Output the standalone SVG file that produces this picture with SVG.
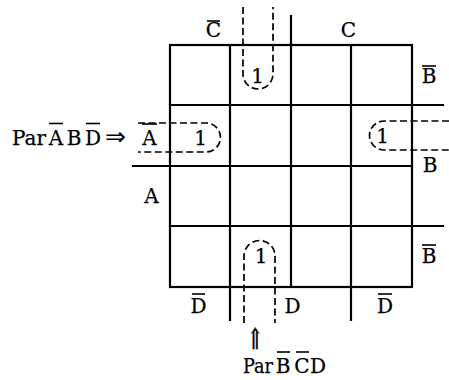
<svg xmlns="http://www.w3.org/2000/svg" width="449" height="380" viewBox="0 0 449 380">
<style>
.g{stroke:#000;stroke-width:2.2;fill:none;stroke-linecap:square}
.d{stroke:#000;stroke-width:1.7;fill:none;stroke-dasharray:7 3.5}
.bar{stroke:#000;stroke-width:1.6}
text{font-family:"DejaVu Serif","Liberation Serif",serif;font-size:20px;fill:#000;text-anchor:middle;stroke:#000;stroke-width:0.25}
.s{text-anchor:start}
.ar{font-family:"DejaVu Sans","Liberation Sans",sans-serif;stroke:none;font-size:25px}
.up{font-size:24px;stroke-width:0.4}
</style>
<rect width="449" height="380" fill="#fff"/>
<g id="grid">
<rect class="g" x="170" y="45" width="242" height="242"/>
<path class="g" d="M230,45V320M291,16V287M351,45V320M170,105H443M133,166H412M170,226H443"/>
</g>
<g id="labels">
<text x="213.5" y="37">C</text><line class="bar" x1="207" y1="21" x2="220" y2="21"/>
<text x="348.5" y="37">C</text>
<text x="429" y="83">B</text><line class="bar" x1="422" y1="66" x2="436" y2="66"/>
<text x="430" y="172">B</text>
<text x="429" y="263">B</text><line class="bar" x1="422" y1="245" x2="436" y2="245"/>
<text x="149.5" y="145">A</text><line class="bar" x1="142" y1="124" x2="157" y2="124"/>
<text x="151.5" y="203">A</text>
<text x="198.5" y="313">D</text><line class="bar" x1="192" y1="294" x2="205" y2="294"/>
<text x="292.5" y="313">D</text>
<text x="385" y="313">D</text><line class="bar" x1="378" y1="294" x2="392" y2="294"/>
</g>
<g id="loops">
<path class="d" d="M243,7V74A15,15 0 0 0 273,74V7"/>
<path class="d" d="M138,123H206A14.5,14.5 0 0 1 206,152H138"/>
<path class="d" d="M449,121H384A14.5,14.5 0 0 0 384,150H449"/>
<path class="d" d="M244,323V256A15.5,15.5 0 0 1 275,256V323"/>
<text x="257.5" y="83">1</text>
<text x="200.5" y="145">1</text>
<text x="382.5" y="143">1</text>
<text x="261" y="263">1</text>
</g>
<g id="pair-left">
<text class="s" x="12" y="145" textLength="34" lengthAdjust="spacingAndGlyphs">Par</text>
<text x="56" y="145">A</text><line class="bar" x1="49" y1="123.5" x2="63" y2="123.5"/>
<text x="74" y="145">B</text>
<text x="93" y="145">D</text><line class="bar" x1="86" y1="123.5" x2="100" y2="123.5"/>
<text class="ar" x="115.5" y="145">⇒</text>
</g>
<g id="pair-bottom">
<text class="up" transform="translate(255,349) scale(0.8,1.2)">⇑</text>
<text class="s" x="243" y="373" textLength="30" lengthAdjust="spacingAndGlyphs">Par</text>
<text x="283" y="373">B</text><line class="bar" x1="277" y1="352" x2="290" y2="352"/>
<text x="302" y="373">C</text><line class="bar" x1="296" y1="352" x2="309" y2="352"/>
<text x="318" y="373">D</text>
</g>
</svg>
